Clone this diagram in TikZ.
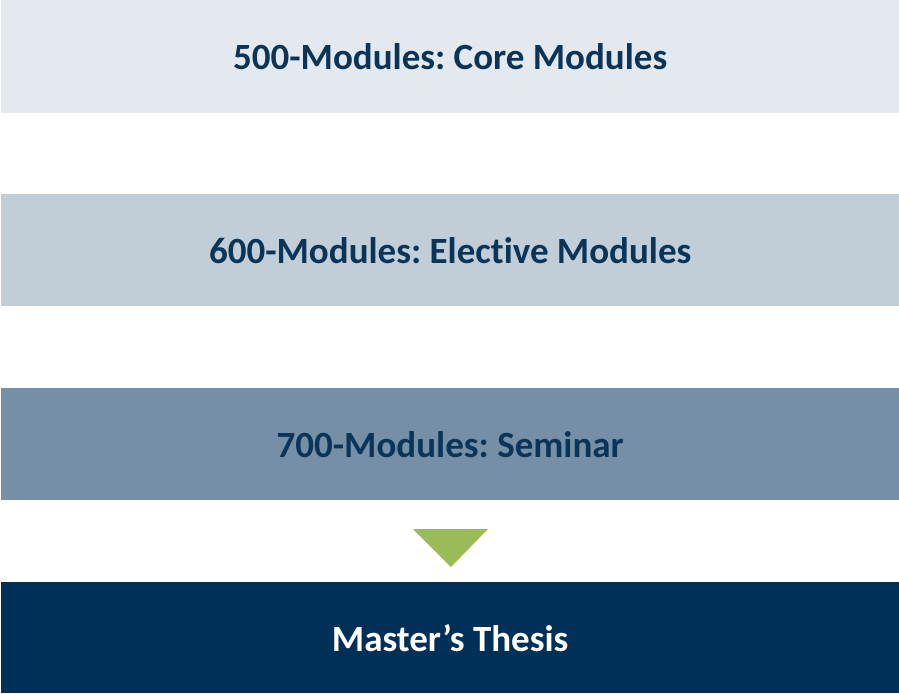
\documentclass[tikz,border=0pt]{standalone}
\usepackage{fontspec}
\setmainfont[Ligatures=NoCommon]{Carlito}
\frenchspacing
\definecolor{bandA}{HTML}{E3E9EE}
\definecolor{bandB}{HTML}{C1CED8}
\definecolor{bandC}{HTML}{7590A6}
\definecolor{bandD}{HTML}{003057}
\definecolor{navytext}{HTML}{0A3558}
\definecolor{arrowgreen}{HTML}{9BBB59}
\tikzset{
  band/.style={draw=none, minimum width=898pt, minimum height=112pt, inner sep=0pt, anchor=north west, font=\fontsize{37}{42}\selectfont\bfseries},
}
\begin{document}
\begin{tikzpicture}[x=1pt,y=-1pt]
\useasboundingbox[fill=white] (0,0) rectangle (899,693);
\node[band, fill=bandA, text=navytext, minimum height=113pt] (b1) at (1,0) {500-Modules: Core Modules};
\node[band, fill=bandB, text=navytext] (b2) at (1,194) {600-Modules: Elective Modules};
\node[band, fill=bandC, text=navytext] (b3) at (1,388) {700-Modules: Seminar};
\node[band, fill=bandD, text=white, minimum height=111pt] (b4) at (1,582) {Master’s Thesis};
\fill[arrowgreen] (413,529) -- (488,529) -- (451,567) -- cycle;
\end{tikzpicture}
\end{document}
